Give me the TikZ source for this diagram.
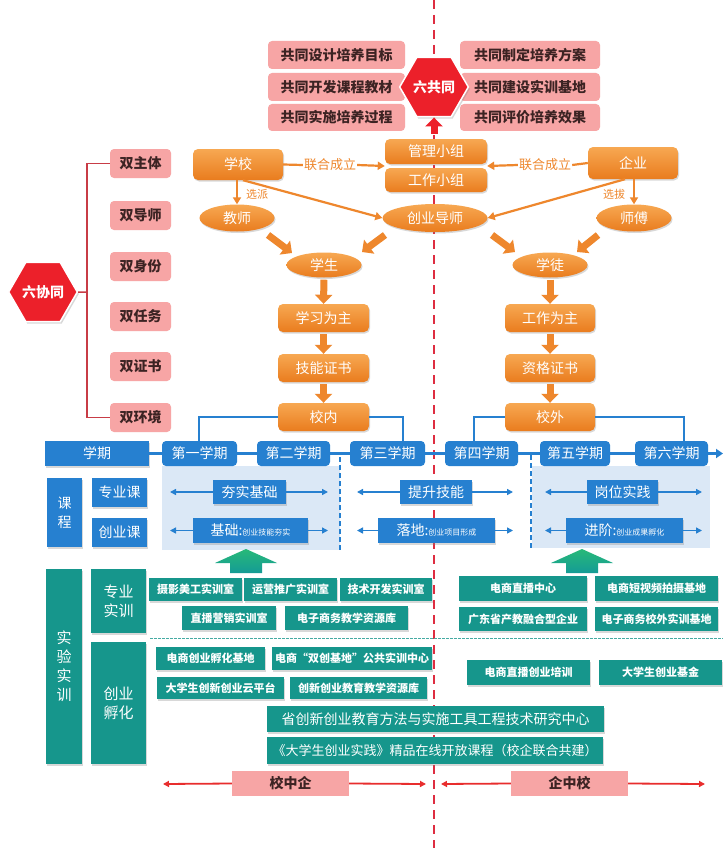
\documentclass[tikz,border=0pt]{standalone}
\usepackage{fontspec}
\setmainfont{Noto Sans CJK SC}
\usetikzlibrary{shapes.geometric,arrows.meta,shadows,calc}

\definecolor{orA}{RGB}{238,135,45}
\definecolor{orTop}{RGB}{247,168,82}
\definecolor{orBot}{RGB}{233,124,30}
\definecolor{pinkA}{RGB}{247,165,165}
\definecolor{pinkTxt}{RGB}{60,35,35}
\definecolor{redA}{RGB}{236,32,42}
\definecolor{redLine}{RGB}{200,60,70}
\definecolor{redDash}{RGB}{222,45,65}
\definecolor{blueA}{RGB}{38,128,208}
\definecolor{bluePanel}{RGB}{219,232,246}
\definecolor{tealA}{RGB}{22,150,140}
\definecolor{greenTop}{RGB}{40,185,120}
\definecolor{greenBot}{RGB}{20,155,150}
\definecolor{arrRed}{RGB}{232,45,45}

\newcommand\fsXL{\fontsize{15}{19}\selectfont}
\newcommand\fsL{\fontsize{14}{19}\selectfont}
\newcommand\fsM{\fontsize{13}{15}\selectfont}
\newcommand\fsS{\fontsize{11}{13}\selectfont}
\newcommand\fsT{\fontsize{8}{9}\selectfont}

\newcommand{\mkbox}[7]{\node[#1, inner sep=0pt, minimum width={(#5-#3)*1pt}, minimum height={(#6-#4)*1pt}] (#2) at ({(#3+#5)/2},{(#4+#6)/2}) {#7};}

\begin{document}
\begin{tikzpicture}[x=1pt,y=-1pt,
  shad/.style={drop shadow={shadow xshift=1pt,shadow yshift=-1.5pt,opacity=0.3}},
  pinkbox/.style={fill=pinkA, rounded corners=4pt, text=pinkTxt, font=\fsL\bfseries},
  pinkflat/.style={fill=pinkA, text=pinkTxt, font=\fsL\bfseries},
  orbox/.style={top color=orTop, bottom color=orBot, rounded corners=5pt, text=white, font=\fsL, shad},
  orell/.style={ellipse, top color=orTop, bottom color=orBot, text=white, font=\fsL, inner sep=0pt, shad},
  bluebox/.style={fill=blueA, text=white, font=\fsL, shad},
  bluesem/.style={fill=blueA, text=white, font=\fsL, rounded corners=4pt},
  tealbox/.style={fill=tealA, text=white, font=\fsS\bfseries, shad},
  tealbig/.style={fill=tealA, text=white, font=\fsL, shad},
  hexred/.style={regular polygon, regular polygon sides=6, fill=redA, draw=white, line width=1.5pt, text=white, font=\fsL\bfseries, inner sep=0pt, drop shadow={shadow xshift=1.5pt,shadow yshift=-2pt,opacity=0.3}},
  lbl/.style={text=orA, font=\fsM, inner sep=1pt},
  lbls/.style={text=orA, font=\fsS, inner sep=0pt},
  tarr/.style={draw=orA, line width=2.2pt, -{Triangle[width=8pt,length=7pt]}},
  tline/.style={draw=orA, line width=2.2pt},
  blk/.style={draw=orA, line width=7pt, -{Triangle[width=17pt,length=9pt]}},
  redblk/.style={draw=redA, line width=7pt, -{Triangle[width=17pt,length=9pt]}},
  brk/.style={draw=redLine, line width=1.5pt},
  bline/.style={draw=blueA, line width=2.5pt},
  barr/.style={draw=blueA, line width=1.5pt, -{Triangle[width=6pt,length=6pt]}},
  rarr/.style={draw=arrRed, line width=1.8pt, -{Triangle[width=6pt,length=6pt]}}
]
\useasboundingbox (0,0) rectangle (723,848);
\fill[white] (0,0) rectangle (723,848);

% central divider
\draw[redDash, line width=2.5pt, dash pattern=on 9pt off 6pt] (434,0) -- (434,848);

% light panels
\fill[bluePanel] (162,466) rectangle (340,550);
\fill[bluePanel] (532,466) rectangle (710,548);
\draw[blueA, line width=1.5pt, dash pattern=on 5pt off 3pt] (340,457) -- (340,550);
\draw[blueA, line width=1.5pt, dash pattern=on 5pt off 3pt] (531,455) -- (531,550);

% ---------- top: six commons ----------
\mkbox{pinkbox}{p1}{268}{41}{405}{69}{共同设计培养目标}
\mkbox{pinkbox}{p2}{268}{73}{405}{101}{共同开发课程教材}
\mkbox{pinkbox}{p3}{268}{104}{405}{131}{共同实施培养过程}
\mkbox{pinkbox}{p4}{460}{41}{600}{69}{共同制定培养方案}
\mkbox{pinkbox}{p5}{460}{73}{600}{101}{共同建设实训基地}
\mkbox{pinkbox}{p6}{460}{104}{600}{131}{共同评价培养效果}
\node[hexred, minimum size=64pt] (lgt) at (434,87) {六共同};

% ---------- left: six cooperations ----------
\mkbox{pinkbox}{sz}{110}{149}{171}{178}{双主体}
\mkbox{pinkbox}{sd}{110}{201}{171}{230}{双导师}
\mkbox{pinkbox}{ss}{110}{252}{171}{281}{双身份}
\mkbox{pinkbox}{sr}{110}{302}{171}{331}{双任务}
\mkbox{pinkbox}{sc}{110}{352}{171}{381}{双证书}
\mkbox{pinkbox}{sh}{110}{403}{171}{432}{双环境}
\node[hexred, minimum size=64pt] (lxt) at (43,292) {六协同};
\coordinate (bk) at (87,292);
\draw[brk] (lxt.east) -- (bk);
\draw[brk] (sz.west) -| (bk);
\draw[brk] (sh.west) -| (bk);

% ---------- orange flow ----------
\mkbox{orbox}{xx}{193}{149}{283}{180}{学校}
\mkbox{orbox}{gl}{385}{139}{487}{164}{管理小组}
\mkbox{orbox}{gz}{385}{168}{487}{192}{工作小组}
\mkbox{orbox}{qy}{588}{147}{678}{179}{企业}
\node[orell, minimum width=75pt, minimum height=27pt] (js) at (237,218) {教师};
\node[orell, minimum width=105pt, minimum height=28pt] (cyds) at (435,218) {创业导师};
\node[orell, minimum width=75pt, minimum height=27pt] (sf) at (634,218) {师傅};
\node[orell, minimum width=75pt, minimum height=25pt] (xs) at (324,265) {学生};
\node[orell, minimum width=75pt, minimum height=25pt] (xt) at (550,265) {学徒};
\mkbox{orbox}{xxwz}{278}{304}{369}{332}{学习为主}
\mkbox{orbox}{gzwz}{505}{304}{595}{332}{工作为主}
\mkbox{orbox}{jnzs}{278}{354}{369}{382}{技能证书}
\mkbox{orbox}{zgzs}{505}{354}{595}{382}{资格证书}
\mkbox{orbox}{xn}{278}{403}{369}{431}{校内}
\mkbox{orbox}{xw}{505}{403}{595}{431}{校外}

\draw[redblk, shorten <=5pt] (gl.north -| lgt.south) -- (lgt.south);

\node[lbl] (lh1) at (330,165) {联合成立};
\node[lbl] (lh2) at (545,165) {联合成立};
\coordinate (gL) at ($(gl.south west)!0.5!(gz.north west)$);
\coordinate (gR) at ($(gl.south east)!0.5!(gz.north east)$);
\draw[tline] (xx.east) -- (lh1.west);
\draw[tarr] (lh1.east) -- (gL);
\draw[tline] (qy.west) -- (lh2.east);
\draw[tarr] (lh2.west) -- (gR);

\node[lbls] (xp) at (257,194) {选派};
\node[lbls] (xb) at (614,194) {选拔};
\draw[tarr] (xx.south -| js.north) -- (js.north);
\draw[tarr] ([xshift=5pt]xx.south) -- (cyds.west);
\draw[tarr] (qy.south -| sf.north) -- (sf.north);
\draw[tarr] ([xshift=-8pt]qy.south) -- (cyds.east);

\draw[blk] ([shift={(31,17)}]js.center) -- ([shift={(-32,-12)}]xs.center);
\draw[blk] ([shift={(-50,17)}]cyds.center) -- ([shift={(38,-13)}]xs.center);
\draw[blk] ([shift={(57,17)}]cyds.center) -- ([shift={(-35,-13)}]xt.center);
\draw[blk] ([shift={(-36,17)}]sf.center) -- ([shift={(27,-13)}]xt.center);

\draw[blk, shorten <=2pt] (xs.south) -- (xxwz.north);
\draw[blk, shorten <=2pt] (xt.south) -- (gzwz.north);
\draw[blk, shorten <=2pt] (xxwz.south) -- (jnzs.north);
\draw[blk, shorten <=2pt] (gzwz.south) -- (zgzs.north);
\draw[blk, shorten <=2pt] (jnzs.south) -- (xn.north);
\draw[blk, shorten <=2pt] (zgzs.south) -- (xw.north);

% ---------- semesters ----------
\mkbox{bluebox}{xq}{45}{441}{149}{466}{学期}
\mkbox{bluesem}{s1}{162}{441}{237}{466}{第一学期}
\mkbox{bluesem}{s2}{257}{441}{330}{466}{第二学期}
\mkbox{bluesem}{s3}{350}{441}{425}{466}{第三学期}
\mkbox{bluesem}{s4}{445}{441}{518}{466}{第四学期}
\mkbox{bluesem}{s5}{540}{441}{610}{466}{第五学期}
\mkbox{bluesem}{s6}{635}{441}{708}{466}{第六学期}
\coordinate (semend) at (723,453.5);
\draw[bline] (xq.east) -- (s1.west);
\draw[bline] (s1.east) -- (s2.west);
\draw[bline] (s2.east) -- (s3.west);
\draw[bline] (s3.east) -- (s4.west);
\draw[bline] (s4.east) -- (s5.west);
\draw[bline] (s5.east) -- (s6.west);
\draw[bline, -{Triangle[width=9pt,length=7pt]}] (s6.east) -- (semend);

\draw[blueA, line width=2pt] (xn.west) -| ([xshift=-1pt]s1.north);
\draw[blueA, line width=2pt] (xn.east) -| ([xshift=15pt]s3.north);
\draw[blueA, line width=2pt] (xw.west) -| ([xshift=-8pt]s4.north);
\draw[blueA, line width=2pt] (xw.east) -| ([xshift=12pt]s6.north);

% ---------- courses ----------
\mkbox{bluebox, align=center}{kc}{47}{478}{82}{547}{课\\程}
\mkbox{bluebox}{zyk}{92}{478}{147}{507}{专业课}
\mkbox{bluebox}{cyk}{92}{518}{147}{547}{创业课}

\mkbox{bluebox}{b1}{213}{480}{286}{504}{夯实基础}
\mkbox{bluebox}{b2}{193}{518}{308}{543}{基础:{\fsT 创业技能夯实}}
\mkbox{bluebox}{b3}{400}{480}{472}{504}{提升技能}
\mkbox{bluebox}{b4}{378}{518}{495}{543}{落地:{\fsT 创业项目形成}}
\mkbox{bluebox}{b5}{587}{480}{658}{504}{岗位实践}
\mkbox{bluebox}{b6}{566}{518}{683}{543}{进阶:{\fsT 创业成果孵化}}

\coordinate (a1l) at (170,492);   \coordinate (a1r) at (328,492);
\coordinate (a2l) at (170,530.5); \coordinate (a2r) at (328,530.5);
\coordinate (a3l) at (357,492);   \coordinate (a3r) at (513,492);
\coordinate (a4l) at (357,530.5); \coordinate (a4r) at (513,530.5);
\coordinate (a5l) at (545,492);   \coordinate (a5r) at (702,492);
\coordinate (a6l) at (545,530.5); \coordinate (a6r) at (702,530.5);
\draw[barr] (b1.west) -- (a1l); \draw[barr] (b1.east) -- (a1r);
\draw[barr] (b2.west) -- (a2l); \draw[barr] (b2.east) -- (a2r);
\draw[barr] (b3.west) -- (a3l); \draw[barr] (b3.east) -- (a3r);
\draw[barr] (b4.west) -- (a4l); \draw[barr] (b4.east) -- (a4r);
\draw[barr] (b5.west) -- (a5l); \draw[barr] (b5.east) -- (a5r);
\draw[barr] (b6.west) -- (a6l); \draw[barr] (b6.east) -- (a6r);

% green up arrows
\shade[top color=greenTop, bottom color=greenBot] (246,549) -- (277,563) -- (262,563) -- (262,573) -- (230,573) -- (230,563) -- (215,563) -- cycle;
\shade[top color=greenTop, bottom color=greenBot] (582,549) -- (613,563) -- (598,563) -- (598,573) -- (566,573) -- (566,563) -- (551,563) -- cycle;

% ---------- training ----------
\mkbox{tealbig, align=center, font=\fsXL}{syst}{46}{569}{82}{764}{实\\验\\实\\训}
\mkbox{tealbig, align=center, font=\fsXL}{zysx}{91}{569}{146}{633}{专业\\实训}
\mkbox{tealbig, align=center, font=\fsXL}{cyfh}{91}{642}{146}{764}{创业\\孵化}
\draw[tealA!80, line width=1pt, dash pattern=on 2.5pt off 1.5pt] (150,638) -- (723,638);

\mkbox{tealbox}{t1}{149}{578}{242}{601}{摄影美工实训室}
\mkbox{tealbox}{t2}{244}{578}{337}{601}{运营推广实训室}
\mkbox{tealbox}{t3}{340}{578}{432}{601}{技术开发实训室}
\mkbox{tealbox}{t4}{182}{606}{276}{630}{直播营销实训室}
\mkbox{tealbox}{t5}{285}{606}{408}{630}{电子商务教学资源库}
\mkbox{tealbox}{t6}{459}{576}{587}{601}{电商直播中心}
\mkbox{tealbox}{t7}{595}{576}{718}{601}{电商短视频拍摄基地}
\mkbox{tealbox}{t8}{459}{607}{587}{631}{广东省产教融合型企业}
\mkbox{tealbox}{t9}{595}{607}{718}{631}{电子商务校外实训基地}
\mkbox{tealbox}{u1}{156}{647}{265}{670}{电商创业孵化基地}
\mkbox{tealbox}{u2}{272}{647}{432}{670}{电商“双创基地”公共实训中心}
\mkbox{tealbox}{u3}{157}{677}{284}{699}{大学生创新创业云平台}
\mkbox{tealbox}{u4}{290}{677}{427}{699}{创新创业教育教学资源库}
\mkbox{tealbox}{u5}{467}{660}{590}{685}{电商直播创业培训}
\mkbox{tealbox}{u6}{599}{660}{722}{685}{大学生创业基金}
\mkbox{tealbig}{u7}{267}{706}{604}{732}{省创新创业教育方法与实施工具工程技术研究中心}
\mkbox{tealbig, font=\fsM}{u8}{267}{737}{603}{764}{《大学生创业实践》精品在线开放课程（校企联合共建）}

% ---------- bottom ----------
\mkbox{pinkflat}{xzq}{232}{771}{349}{796}{校中企}
\mkbox{pinkflat}{qzx}{511}{771}{628}{796}{企中校}
\coordinate (r1l) at (163,784); \coordinate (r1r) at (426,784);
\coordinate (r2l) at (441,784); \coordinate (r2r) at (705,784);
\draw[rarr] (xzq.west) -- (r1l); \draw[rarr] (xzq.east) -- (r1r);
\draw[rarr] (qzx.west) -- (r2l); \draw[rarr] (qzx.east) -- (r2r);
\end{tikzpicture}
\end{document}
